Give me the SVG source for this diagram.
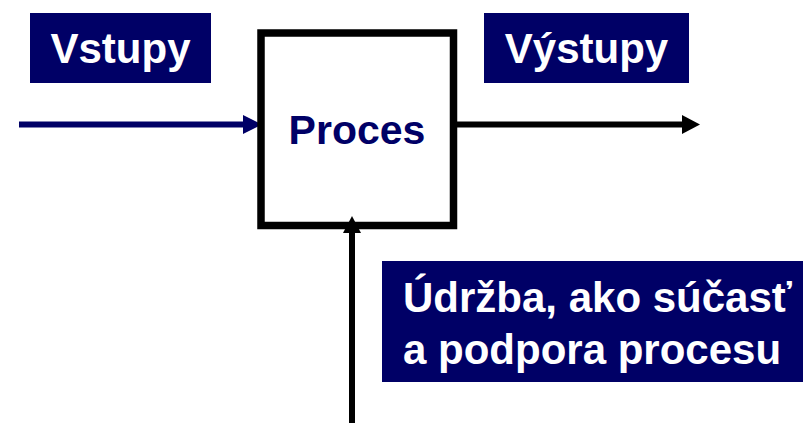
<svg xmlns="http://www.w3.org/2000/svg" width="803" height="423" viewBox="0 0 803 423">
<defs>
<style>
.lbl{fill:#000066}
.lt{font-family:"Liberation Sans",Arial,sans-serif;font-weight:bold;font-size:42px;fill:#ffffff}
.pt{font-family:"Liberation Sans",Arial,sans-serif;font-weight:bold;font-size:41px;fill:#000066}
</style>
</defs>
<rect width="803" height="423" fill="#ffffff"/>
<g id="connectors">
<line x1="19" y1="124.5" x2="245" y2="124.5" stroke="#000066" stroke-width="6"/>
<polygon points="243,115 262,124.5 243,134" fill="#000066"/>
<line x1="457" y1="124.5" x2="685" y2="124.5" stroke="#000000" stroke-width="6"/>
<polygon points="682,115 700,124.5 682,134" fill="#000000"/>
<line x1="352" y1="423" x2="352" y2="230" stroke="#000000" stroke-width="6"/>
<polygon points="343,233 352,216 361,233" fill="#000000"/>
</g>
<g id="vstupy">
<rect class="lbl" x="30" y="13" width="181" height="70"/>
<text class="lt" x="120.5" y="63" text-anchor="middle">Vstupy</text>
</g>
<g id="proces">
<rect x="261" y="33" width="192.5" height="192.5" fill="none" stroke="#000000" stroke-width="7.5"/>
<text class="pt" x="357" y="144" text-anchor="middle">Proces</text>
</g>
<g id="vystupy">
<rect class="lbl" x="484" y="13" width="205" height="70"/>
<text class="lt" x="586.5" y="63" text-anchor="middle">Výstupy</text>
</g>
<g id="udrzba">
<rect class="lbl" x="382" y="261" width="421" height="121"/>
<text class="lt" x="403" y="312">Údržba, ako súčasť</text>
<text class="lt" x="403" y="364">a podpora procesu</text>
</g>
</svg>
